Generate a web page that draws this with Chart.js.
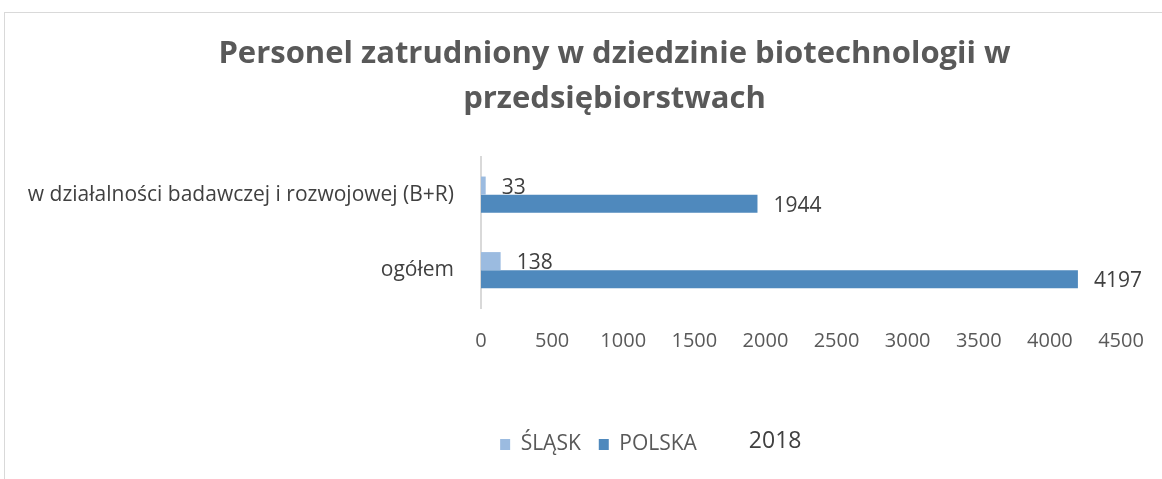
<!DOCTYPE html>
<html>
<head>
<meta charset="utf-8">
<script src="https://cdn.jsdelivr.net/npm/chart.js@4.4.1/dist/chart.umd.min.js"></script>
<style>
  html, body { margin: 0; padding: 0; background: #fff; }
  #wrap { position: relative; width: 1162px; height: 479px; }
  #frame { position: absolute; left: 4px; top: 12px; right: -2px; bottom: -2px;
           border-left: 1px solid #d9d9d9; border-top: 1px solid #d9d9d9; pointer-events: none; }
</style>
</head>
<body>
<div id="wrap">
  <canvas id="chart" width="1162" height="479"></canvas>
  <div id="frame"></div>
</div>
<script>
// ------------------------------------------------------------
// DATA
// ------------------------------------------------------------
const titleLines = ["Personel zatrudniony w dziedzinie biotechnologii w", "przedsiębiorstwach"];
const categories = ["w działalności badawczej i rozwojowej (B+R)", "ogółem"];
const slaskValues = [33, 138];
const polskaValues = [1944, 4197];
const seriesNames = ["ŚLĄSK", "POLSKA"];
const yearLabel = "2018";
const xTicks = { min: 0, max: 4500, step: 500 };

const FONT = "'Open Sans', 'DejaVu Sans', sans-serif";

// ------------------------------------------------------------
// PLUGINS
// ------------------------------------------------------------

// title and legend are not centred on the canvas in the original
// (legend hit boxes get re-adjusted by the legend plugin's afterUpdate)
const shiftBoxes = {
  id: "shiftBoxes",
  afterLayout(chart) {
    const move = (box, d) => { if (box) { box.left += d; box.right += d; } };
    move(chart.titleBlock, 52);
    move(chart.legend, 36);
  }
};

const valueLabels = {
  id: "valueLabels",
  afterDatasetsDraw(chart) {
    const ctx = chart.ctx;
    ctx.save();
    ctx.font = "21px " + FONT;
    ctx.fillStyle = "#404040";
    ctx.textBaseline = "middle";
    ctx.textAlign = "left";
    chart.data.datasets.forEach((ds, i) => {
      chart.getDatasetMeta(i).data.forEach((bar, j) => {
        ctx.fillText(String(ds.data[j]), bar.x + 16, bar.y + 2);
      });
    });
    ctx.restore();
  }
};

const yearText = {
  id: "yearText",
  afterDraw(chart) {
    const boxes = chart.legend.legendHitBoxes;
    if (!boxes || !boxes.length) return;
    const last = boxes[boxes.length - 1];
    const ctx = chart.ctx;
    ctx.save();
    ctx.font = "23px " + FONT;
    ctx.fillStyle = "#404040";
    ctx.textBaseline = "middle";
    ctx.textAlign = "left";
    ctx.fillText(yearLabel, last.left + last.width + 52, last.top + last.height / 2 - 3);
    ctx.restore();
  }
};

// ------------------------------------------------------------
// CHART
// ------------------------------------------------------------
new Chart(document.getElementById("chart"), {
  type: "bar",
  data: {
    labels: categories,
    datasets: [
      { label: seriesNames[0], data: slaskValues, backgroundColor: "#9bbbe0" },
      { label: seriesNames[1], data: polskaValues, backgroundColor: "#4f89bd" }
    ]
  },
  options: {
    indexAxis: "y",
    responsive: false,
    animation: false,
    layout: { padding: { left: 4, right: 41, top: 0, bottom: 14 } },
    datasets: { bar: { barPercentage: 1, categoryPercentage: 0.48 } },
    scales: {
      x: {
        min: xTicks.min,
        max: xTicks.max,
        grid: { display: false },
        border: { display: false },
        ticks: {
          stepSize: xTicks.step,
          padding: 13,
          color: "#595959",
          font: { family: FONT, size: 20 },
          callback: v => String(v)
        },
        afterFit(scale) {
          scale.height = 108;
          scale.paddingRight = 0;
        }
      },
      y: {
        grid: { display: false },
        border: { display: true, color: "#d9d9d9", width: 2 },
        ticks: {
          padding: 19,
          color: "#404040",
          font: { family: FONT, size: 21 }
        },
        afterFit(scale) { scale.width = 477; }
      }
    },
    plugins: {
      title: {
        display: true,
        text: titleLines,
        color: "#595959",
        font: { family: FONT, size: 31, weight: "bold", lineHeight: 1.45 },
        padding: { top: 32, bottom: 35 }
      },
      legend: {
        position: "bottom",
        labels: {
          boxWidth: 10,
          boxHeight: 11,
          padding: 18,
          color: "#595959",
          font: { family: FONT, size: 21 }
        }
      },
      tooltip: { enabled: false }
    }
  },
  plugins: [shiftBoxes, valueLabels, yearText]
});
</script>
</body>
</html>
